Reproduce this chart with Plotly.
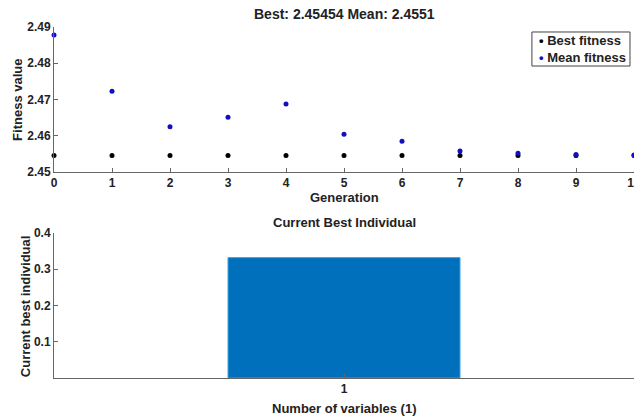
import plotly.graph_objects as go

generations = [0, 1, 2, 3, 4, 5, 6, 7, 8, 9, 10]
best_fitness = [2.45454] * 11
mean_fitness = [2.4878, 2.4723, 2.4625, 2.4651, 2.4688, 2.4604, 2.4585, 2.4558, 2.4552, 2.4548, 2.4547]
variables = [1]
best_individual = [0.332]

BEST_COLOR = "#000000"
MEAN_COLOR = "#1010c0"

FAM = "Liberation Sans, Arial, sans-serif"
F = dict(family=FAM, size=12, color="#222", weight="bold")
F13 = dict(family=FAM, size=13, color="#222", weight="bold")
F14 = dict(family=FAM, size=14, color="#222", weight="bold")
AX = "#666"

fig = go.Figure()
fig.add_trace(go.Scatter(x=generations, y=best_fitness, mode="markers", name="Best fitness",
                         marker=dict(color=BEST_COLOR, size=5), xaxis="x", yaxis="y", cliponaxis=False))
fig.add_trace(go.Scatter(x=generations, y=mean_fitness, mode="markers", name="Mean fitness",
                         marker=dict(color=MEAN_COLOR, size=5), xaxis="x", yaxis="y", cliponaxis=False))
fig.add_trace(go.Bar(x=variables, y=best_individual, width=0.8, showlegend=False,
                     marker=dict(color="#0070bd", line=dict(color="#3fa0e0", width=1)),
                     xaxis="x2", yaxis="y2"))

common = dict(showline=True, linecolor=AX, linewidth=1, ticks="inside", ticklen=4, tickcolor=AX,
              showgrid=False, zeroline=False, tickfont=F, mirror=False, automargin=False,
              ticklabeloverflow="allow")

legend_text = (f"<span style='color:{BEST_COLOR}'>\u2022</span> Best fitness<br>"
               f"<span style='color:{MEAN_COLOR}'>\u2022</span> Mean fitness")

fig.update_layout(
    width=634, height=416,
    margin=dict(l=54, r=0, t=0, b=0, autoexpand=False),
    paper_bgcolor="white", plot_bgcolor="white",
    font=F,
    showlegend=False,
    xaxis=dict(domain=[0, 1], range=[0, 10], tickvals=generations, anchor="y", **common),
    yaxis=dict(domain=[0.5865, 0.935], range=[2.45, 2.49], tickvals=[2.45, 2.46, 2.47, 2.48, 2.49],
               tickformat=".2f", anchor="x", **common),
    xaxis2=dict(domain=[0, 1], range=[0, 2], tickvals=[1], anchor="y2", **common),
    yaxis2=dict(domain=[0.0913, 0.44], range=[0, 0.4], tickvals=[0.1, 0.2, 0.3, 0.4],
                anchor="x2", **common),
    shapes=[dict(type="rect", xref="paper", yref="paper", x0=0.824, x1=0.9931, y0=0.8413, y1=0.9231,
                 line=dict(color="#444", width=1), fillcolor="white", layer="above")],
    annotations=[
        dict(text=legend_text, x=0.833, y=0.882, xref="paper", yref="paper", align="left",
             showarrow=False, font=F13, xanchor="left", yanchor="middle"),
        dict(text="Best: 2.45454 Mean: 2.4551", x=0.5, y=0.966, xref="paper", yref="paper",
             showarrow=False, font=F14, xanchor="center", yanchor="middle"),
        dict(text="Generation", x=0.5, y=0.5264, xref="paper", yref="paper",
             showarrow=False, font=F13, xanchor="center", yanchor="middle"),
        dict(text="Current Best Individual", x=0.5, y=0.466, xref="paper", yref="paper",
             showarrow=False, font=F13, xanchor="center", yanchor="middle"),
        dict(text="Number of variables (1)", x=0.5, y=0.0188, xref="paper", yref="paper",
             showarrow=False, font=F13, xanchor="center", yanchor="middle"),
        dict(text="Fitness value", x=-0.062, y=0.76, xref="paper", yref="paper", textangle=-90,
             showarrow=False, font=F13, xanchor="center", yanchor="middle"),
        dict(text="Current best individual", x=-0.05, y=0.264, xref="paper", yref="paper", textangle=-90,
             showarrow=False, font=F13, xanchor="center", yanchor="middle"),
    ],
)

fig.write_html("out.html", config={"displayModeBar": False},
               post_script="document.body.style.margin='0';document.body.style.overflow='hidden';")
